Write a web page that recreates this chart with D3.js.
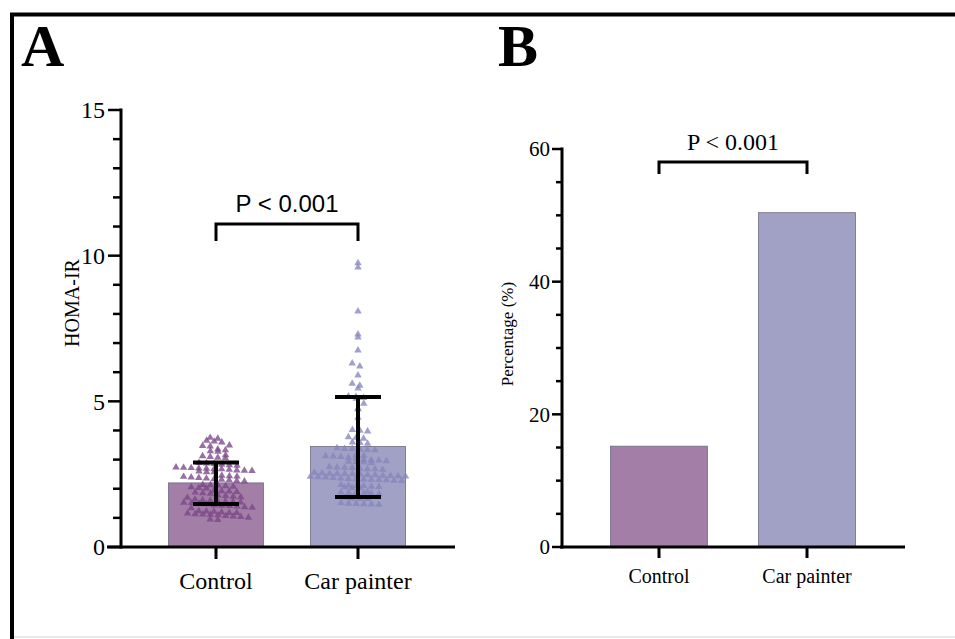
<!DOCTYPE html>
<html><head><meta charset="utf-8">
<script src="https://cdn.jsdelivr.net/npm/d3@7"></script>
<style>html,body{margin:0;padding:0;background:#fff;}</style>
</head><body><svg id="c" width="955" height="639"></svg>
<script>
// ---------- DATA ----------
const categories = ["Control", "Car painter"];
const homaMean = [2.2, 3.45];
const homaLow = [1.48, 1.72];
const homaHigh = [2.9, 5.15];
const homaTicks = [0, 5, 10, 15];
const controlPoints = [
 3.78,3.75,3.68,3.65,3.62,3.52,3.5,3.48,3.38,3.35,3.32,3.3,3.18,3.15,3.12,3.1,3.08,
 2.92,2.9,2.88,2.86,2.84,2.82,2.76,2.75,2.74,2.73,2.72,2.7,2.7,2.68,2.66,2.65,2.64,2.62,2.6,2.6,
 2.48,2.46,2.45,2.44,2.42,2.4,2.38,2.36,2.34,2.32,2.3,2.28,
 2.16,2.15,2.14,2.12,2.1,2.08,2.06,2.04,1.96,1.95,1.94,1.92,1.9,1.88,1.86,
 1.8,1.78,1.76,1.74,1.72,1.66,1.64,1.62,1.6,1.6,1.58,1.56,1.55,1.54,1.52,1.5,
 1.46,1.45,1.44,1.42,1.4,1.38,1.36,1.26,1.25,1.24,1.22,1.2,1.2,1.18,1.16,1.15,1.14,1.12,1.1,1.08,1.06,1.04,0.98,0.96
];
const painterPoints = [
 9.77,9.63,8.12,7.33,7.22,6.78,6.33,6.23,5.92,5.64,5.57,5.47,5.2,5.18,5.15,5.12,4.95,4.78,4.76,4.47,
 4.05,4.02,4.0,3.8,3.78,3.75,3.62,3.6,3.58,3.42,3.4,3.4,3.38,3.36,3.35,
 3.18,3.16,3.15,3.14,3.12,3.1,3.08,3.02,3.0,3.0,2.98,2.96,2.95,2.94,2.92,
 2.78,2.76,2.75,2.74,2.72,2.7,2.7,2.68,
 2.58,2.56,2.55,2.55,2.54,2.53,2.52,2.5,2.5,2.48,2.47,2.46,2.45,2.44,2.43,2.42,
 2.4,2.38,2.37,2.36,2.35,2.34,2.33,2.32,2.31,2.3,
 2.16,2.14,2.13,2.12,2.1,2.09,2.08,2.06,2.05,
 1.92,1.9,1.89,1.88,1.87,1.86,1.85,1.72,1.7,1.69,1.68,1.54,1.52,1.51,1.5,1.49,1.48
];
const pctValues = [15.2, 50.4];
const pctTicks = [0, 20, 40, 60];
const pLabel = "P < 0.001";

// ---------- DRAW ----------
const svg = d3.select("#c");
const barColors = ["#a37fa8", "#a1a1c5"];
const ptColors = ["#7b4688", "#8585bd"];
const serif = "'Liberation Serif', 'Times New Roman', serif";
const sans = "'Liberation Sans', Arial, sans-serif";

// frame
svg.append("line").attr("x1",10).attr("x2",955).attr("y1",14.5).attr("y2",14.5).attr("stroke","#000").attr("stroke-width",4);
svg.append("line").attr("x1",12).attr("x2",12).attr("y1",13).attr("y2",639).attr("stroke","#000").attr("stroke-width",4);
svg.append("line").attr("x1",14).attr("x2",955).attr("y1",637).attr("y2",637).attr("stroke","#e8e8e8").attr("stroke-width",2);

svg.append("text").attr("x",21).attr("y",66).attr("font-family",serif)
  .attr("font-weight","bold").attr("font-size",60).text("A");
svg.append("text").attr("x",498).attr("y",66).attr("font-family",serif)
  .attr("font-weight","bold").attr("font-size",60).text("B");

// ===== Panel A =====
const yA = d3.scaleLinear().domain([0, 15]).range([547, 110]);
const xA = d3.scalePoint().domain(categories).range([216, 358]);
const gA = svg.append("g");
const bw = 95;

gA.selectAll("rect.bar").data(categories).join("rect")
  .attr("x", d => xA(d) - bw/2).attr("width", bw)
  .attr("y", (d,i) => yA(homaMean[i])).attr("height", (d,i) => yA(0) - yA(homaMean[i]))
  .attr("fill", (d,i) => barColors[i]).attr("stroke", "#6d6d80").attr("stroke-width", 0.8);

// row-binned scatter layout (GraphPad-like)
function swarm(vals, cx, rowH, gap) {
  const rows = d3.group(vals, v => Math.round(yA(v) / rowH));
  const out = [];
  for (const [k, arr] of rows) {
    const n = arr.length;
    arr.forEach((v, j) => {
      out.push({x: cx + (j - (n - 1) / 2) * gap + ((k % 2) ? 2 : -2) * (n > 1 ? 1 : 0), y: yA(v)});
    });
  }
  return out;
}
const tri = d3.symbol().type(d3.symbolTriangle).size(24);
[controlPoints, painterPoints].forEach((arr, i) => {
  const pts = swarm(arr, xA(categories[i]), 5.2, 7.6);
  gA.append("g").selectAll("path").data(pts).join("path")
    .attr("d", tri).attr("transform", d => `translate(${d.x},${d.y + 0.8})`)
    .attr("fill", ptColors[i]).attr("fill-opacity", 0.78);
});

// error bars
categories.forEach((c, i) => {
  const x = xA(c);
  gA.append("line").attr("x1", x).attr("x2", x).attr("y1", yA(homaLow[i])).attr("y2", yA(homaHigh[i])).attr("stroke","#000").attr("stroke-width",4);
  [homaLow[i], homaHigh[i]].forEach(v => {
    gA.append("line").attr("x1", x-23).attr("x2", x+23).attr("y1", yA(v)).attr("y2", yA(v)).attr("stroke","#000").attr("stroke-width",4);
  });
});

// axes A
const axA = gA.append("g").attr("transform","translate(121,0)");
axA.append("line").attr("x1",0).attr("x2",0).attr("y1",yA(15)-1.5).attr("y2",yA(0)+1.5).attr("stroke","#000").attr("stroke-width",3);
d3.range(0, 16, 1).forEach(v => {
  const major = v % 5 === 0;
  axA.append("line").attr("x1", major ? -13 : -8).attr("x2",0).attr("y1",yA(v)).attr("y2",yA(v)).attr("stroke","#000").attr("stroke-width",2.5);
});
axA.selectAll("text.t").data(homaTicks).join("text")
  .attr("x",-16).attr("y", d => yA(d)).attr("dy","0.35em").attr("text-anchor","end")
  .attr("font-family",serif).attr("font-size",24).text(d => d);
gA.append("line").attr("x1",107).attr("x2",455).attr("y1",yA(0)).attr("y2",yA(0)).attr("stroke","#000").attr("stroke-width",3);
categories.forEach(c => {
  gA.append("line").attr("x1",xA(c)).attr("x2",xA(c)).attr("y1",yA(0)).attr("y2",yA(0)+12).attr("stroke","#000").attr("stroke-width",3);
  gA.append("text").attr("x",xA(c)).attr("y",589).attr("text-anchor","middle").attr("font-family",serif).attr("font-size",24).text(c);
});
gA.append("text").attr("transform","translate(79,303) rotate(-90)").attr("text-anchor","middle")
  .attr("font-family",serif).attr("font-size",20).text("HOMA-IR");
// bracket A
gA.append("path").attr("d",`M${xA(categories[0])},${241}V${224}H${xA(categories[1])}V${241}`)
  .attr("fill","none").attr("stroke","#000").attr("stroke-width",3);
gA.append("text").attr("x",(xA(categories[0])+xA(categories[1]))/2).attr("y",212).attr("text-anchor","middle")
  .attr("font-family",sans).attr("font-size",24).text(pLabel);

// ===== Panel B =====
const yB = d3.scaleLinear().domain([0, 60]).range([547, 149]);
const xB = d3.scalePoint().domain(categories).range([659, 807]);
const gB = svg.append("g");
const bwB = 97;
gB.selectAll("rect").data(categories).join("rect")
  .attr("x", d => xB(d) - bwB/2).attr("width", bwB)
  .attr("y", (d,i) => yB(pctValues[i])).attr("height", (d,i) => yB(0) - yB(pctValues[i]))
  .attr("fill", (d,i) => barColors[i]).attr("stroke","#6d6d80").attr("stroke-width",0.8);
const axB = gB.append("g").attr("transform","translate(562,0)");
axB.append("line").attr("x1",0).attr("x2",0).attr("y1",yB(60)-1.5).attr("y2",yB(0)+1.5).attr("stroke","#000").attr("stroke-width",3);
d3.range(0, 61, 5).forEach(v => {
  const major = v % 20 === 0;
  axB.append("line").attr("x1", major ? -10 : -6).attr("x2",0).attr("y1",yB(v)).attr("y2",yB(v)).attr("stroke","#000").attr("stroke-width",2.5);
});
axB.selectAll("text.t").data(pctTicks).join("text")
  .attr("x",-12).attr("y", d => yB(d)).attr("dy","0.35em").attr("text-anchor","end")
  .attr("font-family",serif).attr("font-size",21).text(d => d);
gB.append("line").attr("x1",560).attr("x2",905).attr("y1",yB(0)).attr("y2",yB(0)).attr("stroke","#000").attr("stroke-width",3);
categories.forEach(c => {
  gB.append("line").attr("x1",xB(c)).attr("x2",xB(c)).attr("y1",yB(0)).attr("y2",yB(0)+11).attr("stroke","#000").attr("stroke-width",3);
  gB.append("text").attr("x",xB(c)).attr("y",583).attr("text-anchor","middle").attr("font-family",serif).attr("font-size",20).text(c);
});
gB.append("text").attr("transform","translate(513,334) rotate(-90)").attr("text-anchor","middle")
  .attr("font-family",serif).attr("font-size",17).text("Percentage (%)");
gB.append("path").attr("d",`M${xB(categories[0])},${174}V${162}H${xB(categories[1])}V${174}`)
  .attr("fill","none").attr("stroke","#000").attr("stroke-width",3);
gB.append("text").attr("x",(xB(categories[0])+xB(categories[1]))/2).attr("y",150).attr("text-anchor","middle")
  .attr("font-family",serif).attr("font-size",24).text(pLabel);
</script></body></html>
